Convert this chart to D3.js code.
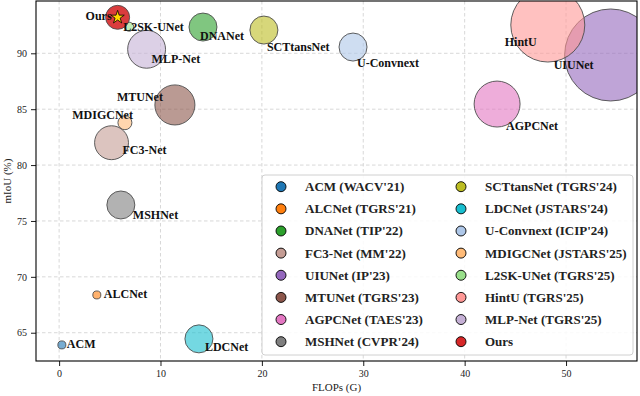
<!DOCTYPE html>
<html lang="en"><head>
<meta charset="utf-8">
<title>FLOPs vs mIoU</title>
<script src="https://cdn.jsdelivr.net/npm/d3@7"></script>
<style>
  body { margin: 0; background: #fff; }
  text { font-family: "Liberation Serif", "Times New Roman", serif; }
</style>
</head>
<body>
<script>
    // methods, FLOPs (G), mIoU (%), params (M, sets bubble size)
    var names  = ["ACM", "ALCNet", "DNANet", "FC3-Net", "UIUNet", "MTUNet", "AGPCNet", "MSHNet",
                  "SCTtansNet", "LDCNet", "U-Convnext", "MDIGCNet", "L2SK-UNet", "HintU", "MLP-Net", "Ours"];
    var venues = ["WACV'21", "TGRS'21", "TIP'22", "MM'22", "IP'23", "TGRS'23", "TAES'23", "CVPR'24",
                  "TGRS'24", "JSTARS'24", "ICIP'24", "JSTARS'25", "TGRS'25", "TGRS'25", "TGRS'25", ""];
    var flops  = [0.27, 3.72, 14.19, 5.17, 54.4, 11.42, 43.2, 6.09,
                  20.2, 13.79, 28.99, 6.49, 6.91, 48.2, 8.63, 5.77];
    var miou   = [63.91, 68.38, 92.35, 82.0, 89.85, 85.38, 85.46, 76.43,
                  92.08, 64.45, 90.56, 83.79, 92.38, 92.53, 90.36, 93.22];
    var params = [0.38, 0.38, 4.64, 6.8, 50.1, 9.5, 12.5, 4.64,
                  4.64, 4.64, 4.64, 1.16, 0.48, 32.4, 8.5, 3.4];
    var xTicks = [0, 10, 20, 30, 40, 50];
    var yTicks = [65, 70, 75, 80, 85, 90];

    var colors = ["#1f77b4", "#ff7f0e", "#2ca02c", "#c49c94", "#9467bd", "#8c564b", "#e377c2", "#7f7f7f",
                  "#bcbd22", "#17becf", "#aec7e8", "#ffbb78", "#98df8a", "#ff9896", "#c5b0d5", "#d62728"];

    // label placement (pixel offsets from bubble centre)
    var labelPos = {
        "ACM": [5, 3.5, "start"], "ALCNet": [7, 3, "start"], "DNANet": [-3, 13, "start"],
        "FC3-Net": [11, 11.5, "start"], "UIUNet": [-17, 14, "end"], "MTUNet": [-12, -3.5, "end"],
        "AGPCNet": [9, 26, "start"], "MSHNet": [12, 14, "start"], "SCTtansNet": [3, 20.5, "start"],
        "LDCNet": [6, 12.5, "start"], "U-Convnext": [4, 20, "start"], "MDIGCNet": [8, -4, "end"],
        "L2SK-UNet": [-6, 4.5, "start"], "HintU": [-11, 21, "end"], "MLP-Net": [5, 14, "start"],
        "Ours": [-6, 3, "end"]
    };

    var width = 640, height = 396;
    var margin = {left: 36, right: 3, top: 1, bottom: 35};
    var pw = width - margin.left - margin.right;
    var ph = height - margin.top - margin.bottom;

    var x = d3.scaleLinear().domain([-2.28, 57.0]).range([0, pw]);
    var y = d3.scaleLinear().domain([62.47, 94.68]).range([ph, 0]);
    var r = d3.scaleSqrt().domain([0, 1]).range([0, 6.5]);

    var svg = d3.select("body").append("svg")
        .attr("width", width)
        .attr("height", height);

    var g = svg.append("g")
        .attr("transform", "translate(" + margin.left + "," + margin.top + ")");

    // grid
    g.append("g").selectAll("line").data(xTicks).enter().append("line")
        .attr("x1", function (d) { return x(d); }).attr("x2", function (d) { return x(d); })
        .attr("y1", 0).attr("y2", ph)
        .attr("stroke", "#d4d4d4").attr("stroke-dasharray", "3.5,2.5").attr("stroke-width", 0.9);
    g.append("g").selectAll("line").data(yTicks).enter().append("line")
        .attr("y1", function (d) { return y(d); }).attr("y2", function (d) { return y(d); })
        .attr("x1", 0).attr("x2", pw)
        .attr("stroke", "#d4d4d4").attr("stroke-dasharray", "3.5,2.5").attr("stroke-width", 0.9);

    var data = names.map(function (n, i) {
        return {name: n, venue: venues[i], flops: flops[i], miou: miou[i], params: params[i], color: colors[i]};
    });

    var clip = svg.append("clipPath").attr("id", "plotclip").append("rect")
        .attr("width", pw).attr("height", ph);

    // bubbles
    g.append("g").attr("clip-path", "url(#plotclip)")
        .selectAll("circle").data(data).enter().append("circle")
        .attr("cx", function (d) { return x(d.flops); })
        .attr("cy", function (d) { return y(d.miou); })
        .attr("r", function (d) { return r(d.params); })
        .attr("fill", function (d) { return d.color; })
        .attr("fill-opacity", function (d) { return d.name == "Ours" ? 0.9 : 0.6; })
        .attr("stroke", "#4d4d4d")
        .attr("stroke-width", 0.9);

    // star on ours
    var ours = data[data.length - 1];
    g.append("path")
        .attr("d", d3.symbol().type(d3.symbolStar).size(55)())
        .attr("transform", "translate(" + x(ours.flops) + "," + y(ours.miou) + ")")
        .attr("fill", "#ffd700")
        .attr("stroke", "#000")
        .attr("stroke-width", 0.8);

    // labels
    g.append("g").selectAll("text").data(data).enter().append("text")
        .attr("x", function (d) { return x(d.flops) + labelPos[d.name][0]; })
        .attr("y", function (d) { return y(d.miou) + labelPos[d.name][1]; })
        .attr("text-anchor", function (d) { return labelPos[d.name][2]; })
        .attr("font-size", 12)
        .attr("font-weight", "bold")
        .attr("fill", "#111")
        .text(function (d) { return d.name; });

    // legend
    var legend = g.append("g").attr("transform", "translate(226,174)");
    legend.append("rect")
        .attr("width", 371).attr("height", 180).attr("rx", 3)
        .attr("fill", "#fff").attr("fill-opacity", 0.85)
        .attr("stroke", "#d0d0d0").attr("stroke-width", 1);
    var item = legend.selectAll(".legend").data(data).enter().append("g")
        .attr("class", "legend")
        .attr("transform", function (d, i) {
            return "translate(" + (i < 8 ? 19 : 199) + "," + (11.7 + (i % 8) * 22.14) + ")";
        });
    item.append("circle")
        .attr("r", 5)
        .attr("fill", function (d) { return d.color; })
        .attr("stroke", "#000").attr("stroke-width", 0.9);
    item.append("text")
        .attr("x", 24).attr("y", 4.5)
        .attr("font-size", 13)
        .attr("font-weight", "bold")
        .attr("fill", "#222")
        .text(function (d) { return d.venue ? d.name + " (" + d.venue + ")" : d.name; });

    // axes
    var xAxis = g.append("g").attr("transform", "translate(0," + ph + ")")
        .call(d3.axisBottom(x).tickValues(xTicks).tickSize(5).tickPadding(4));
    var yAxis = g.append("g")
        .call(d3.axisLeft(y).tickValues(yTicks).tickSize(5).tickPadding(4));
    g.selectAll(".domain").remove();
    g.selectAll(".tick line").attr("stroke", "#000").attr("stroke-width", 0.9);
    g.selectAll(".tick text")
        .attr("font-family", "'Liberation Serif', serif")
        .attr("font-size", 10)
        .attr("fill", "#222");

    g.append("rect")
        .attr("width", pw).attr("height", ph)
        .attr("fill", "none").attr("stroke", "#000").attr("stroke-width", 1.1);

    svg.append("text")
        .attr("x", margin.left + pw / 2).attr("y", 391)
        .attr("text-anchor", "middle")
        .attr("font-size", 11)
        .attr("fill", "#222")
        .text("FLOPs (G)");

    svg.append("text")
        .attr("transform", "translate(11," + (margin.top + ph / 2) + ") rotate(-90)")
        .attr("text-anchor", "middle")
        .attr("font-size", 11)
        .attr("fill", "#222")
        .text("mIoU (%)");
</script>
</body></html>
